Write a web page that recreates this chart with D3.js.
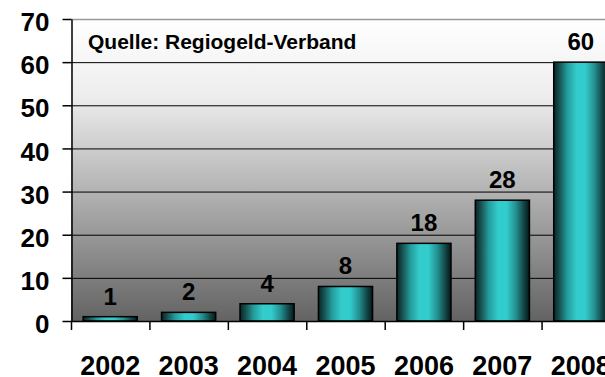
<!DOCTYPE html>
<html><head><meta charset="utf-8">
<script src="https://cdn.jsdelivr.net/npm/d3@7"></script>
<style>html,body{margin:0;padding:0;background:#fff;overflow:hidden}</style>
</head><body>
<script>
const years = ["2002","2003","2004","2005","2006","2007","2008"];
const values = [1, 2, 4, 8, 18, 28, 60];
const yTicks = [0, 10, 20, 30, 40, 50, 60, 70];
const sourceNote = "Quelle: Regiogeld-Verband";

(function () {
const W = 605, H = 377;
const pLeft = 71, pRight = 620, pTop = 19, pBottom = 321;
const svg = d3.select("body").append("svg").attr("width", W).attr("height", H)
  .style("font-family", "Arial, 'Liberation Sans', sans-serif");

const x = d3.scaleBand().domain(years).range([pLeft, pRight]).paddingInner(0.31).paddingOuter(0.155);
const y = d3.scaleLinear().domain([0, 70]).range([pBottom, pTop]);

const defs = svg.append("defs");
const bg = defs.append("linearGradient").attr("id", "bg").attr("x1", 0).attr("y1", 0).attr("x2", 0).attr("y2", 1);
bg.append("stop").attr("offset", 0).attr("stop-color", "#ffffff");
bg.append("stop").attr("offset", 0.25).attr("stop-color", "#eeeeee");
bg.append("stop").attr("offset", 1).attr("stop-color", "#636363");

const bar = defs.append("linearGradient").attr("id", "bar").attr("x1", 0).attr("y1", 0).attr("x2", 1).attr("y2", 0);
[[0, "#0a2424"], [0.1, "#174f4f"], [0.25, "#259b9b"], [0.42, "#33cccc"], [0.58, "#33cccc"], [0.75, "#249090"], [0.9, "#124444"], [1, "#051818"]]
  .forEach(([o, c]) => bar.append("stop").attr("offset", o).attr("stop-color", c));

svg.append("rect").attr("x", pLeft).attr("y", pTop).attr("width", pRight - pLeft).attr("height", pBottom - pTop).attr("fill", "url(#bg)");

svg.append("g").selectAll("line").data(yTicks.filter(t => t > 0 && t < 70)).join("line")
  .attr("x1", pLeft).attr("x2", pRight).attr("y1", d => y(d) + 0.5).attr("y2", d => y(d) + 0.5)
  .attr("stroke", "#000").attr("stroke-width", 1);
svg.append("line").attr("x1", pLeft).attr("x2", pRight).attr("y1", y(70) + 0.5).attr("y2", y(70) + 0.5)
  .attr("stroke", "#9a9a9a").attr("stroke-width", 1.5);

svg.append("g").selectAll("rect").data(values).join("rect")
  .attr("x", (d, i) => x(years[i]))
  .attr("y", d => y(d))
  .attr("width", x.bandwidth())
  .attr("height", d => y(0) - y(d))
  .attr("fill", "url(#bar)")
  .attr("stroke", "#000").attr("stroke-width", 1.5);

svg.append("g").selectAll("text").data(values).join("text")
  .attr("x", (d, i) => x(years[i]) + x.bandwidth() / 2)
  .attr("y", d => y(d) - 12)
  .attr("text-anchor", "middle")
  .attr("font-size", 24).attr("font-weight", "bold").attr("fill", "#000")
  .text(d => d);

const yAxis = d3.axisLeft(y).tickValues(yTicks).tickSize(9).tickSizeOuter(0).tickPadding(13);
const gy = svg.append("g").attr("transform", `translate(${pLeft + 0.5},0)`).call(yAxis);
gy.select(".domain").attr("stroke", "#000").attr("stroke-width", 1.5);
gy.selectAll(".tick line").attr("stroke", "#000").attr("stroke-width", 1.5);
gy.selectAll(".tick text").attr("font-size", 26).attr("font-weight", "bold").attr("fill", "#000")
  .attr("font-family", "Arial, 'Liberation Sans', sans-serif").attr("dy", "0.45em");

const xTickPos = years.map((yr, i) => pLeft + i * x.step()).concat([pRight]);
const gx = svg.append("g");
gx.append("line").attr("x1", pLeft).attr("x2", pRight).attr("y1", pBottom + 0.5).attr("y2", pBottom + 0.5)
  .attr("stroke", "#000").attr("stroke-width", 1.5);
gx.selectAll("line.t").data(xTickPos).join("line").attr("class", "t")
  .attr("x1", d => d + 0.5).attr("x2", d => d + 0.5).attr("y1", pBottom).attr("y2", pBottom + 9)
  .attr("stroke", "#000").attr("stroke-width", 1.5);
gx.selectAll("text").data(years).join("text")
  .attr("x", d => x(d) + x.bandwidth() / 2).attr("y", 375)
  .attr("text-anchor", "middle").attr("font-size", 27).attr("font-weight", "bold").attr("fill", "#000")
  .text(d => d);

svg.append("text").attr("x", 88).attr("y", 49).attr("font-size", 21).attr("font-weight", "bold")
  .attr("fill", "#000").text(sourceNote);
})();
</script>
</body></html>
